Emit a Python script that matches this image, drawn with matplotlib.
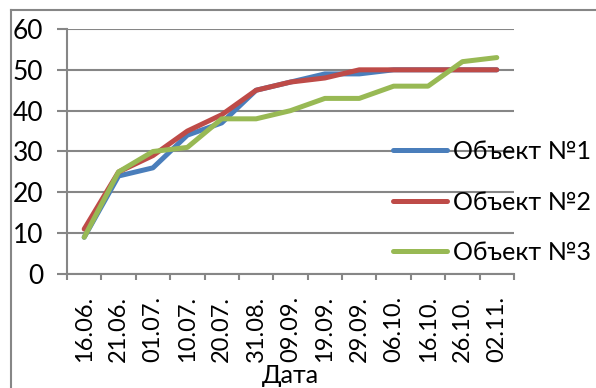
import numpy as np
import matplotlib.pyplot as plt
from matplotlib.lines import Line2D

plt.rcParams['font.family'] = ['Lato', 'DejaVu Sans']

dates = ['16.06.', '21.06.', '01.07.', '10.07.', '20.07.', '31.08.', '09.09.',
         '19.09.', '29.09.', '06.10.', '16.10.', '26.10.', '02.11.']
obj1 = [9, 24, 26, 34, 37, 45, 47, 49, 49, 50, 50, 50, 50]
obj2 = [11, 25, 29, 35, 39, 45, 47, 48, 50, 50, 50, 50, 50]
obj3 = [9, 25, 30, 31, 38, 38, 40, 43, 43, 46, 46, 52, 53]
names = ['Объект №1', 'Объект №2', 'Объект №3']
colors = ['#4A7EBB', '#BE4B48', '#98B954']

grid_c = '#868686'

fig = plt.figure(figsize=(5.96, 3.88), dpi=100)
ax = fig.add_axes([0.1124, 0.2938, 0.75, 0.6315])

x = np.arange(len(dates))
for ys, c, n in zip([obj1, obj2, obj3], colors, names):
    ax.plot(x, ys, color=c, lw=3.6, label=n, solid_capstyle='round',
            solid_joinstyle='round', zorder=3)

ax.set_xlim(-0.5, len(dates) - 0.5)
ax.set_ylim(0, 60)
ax.set_yticks(np.arange(0, 61, 10))
ax.yaxis.grid(True, color=grid_c, lw=1.5)
ax.set_axisbelow(True)

ax.set_xticks(x)
ax.set_xticklabels(dates, rotation=90, fontsize=17)
ax.set_xticks(np.arange(-0.5, len(dates), 1), minor=True)
ax.tick_params(axis='x', which='major', length=0, pad=16)
ax.tick_params(axis='x', which='minor', length=4, width=1.5, color=grid_c)
ax.tick_params(axis='y', length=7, width=1.5, color=grid_c, labelsize=19, pad=10)

for s in ['top', 'right']:
    ax.spines[s].set_visible(False)
for s in ['left', 'bottom']:
    ax.spines[s].set_color(grid_c)
    ax.spines[s].set_linewidth(1.5)

ax.set_xlabel('Дата', fontsize=18, labelpad=1)

ax.legend(loc='upper left', bbox_to_anchor=(393 / 596, 1 - 140 / 388),
          bbox_transform=fig.transFigure, frameon=False, fontsize=18,
          handlelength=2.15, handletextpad=0.24, labelspacing=1.1,
          borderpad=0, borderaxespad=0)

# outer chart frame
fig.add_artist(Line2D([11 / 596, 11 / 596], [0, 1 - 10 / 388],
                      color=grid_c, lw=1.5, transform=fig.transFigure))
fig.add_artist(Line2D([11 / 596, 1], [1 - 10 / 388, 1 - 10 / 388],
                      color=grid_c, lw=1.5, transform=fig.transFigure))

fig.savefig('out.png', dpi=100)
